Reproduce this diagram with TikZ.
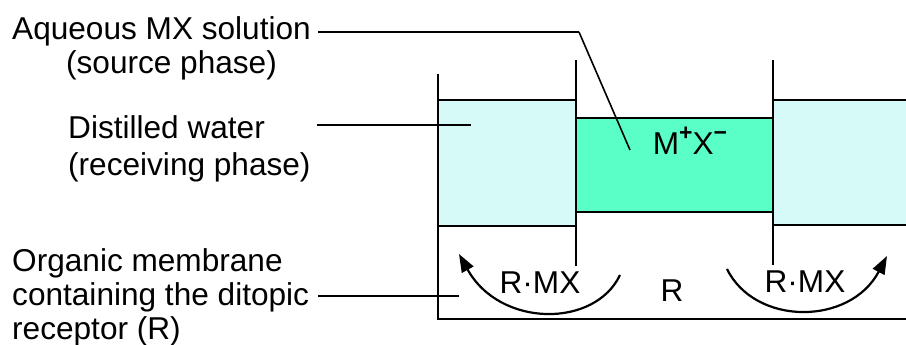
\documentclass[tikz,border=0pt]{standalone}
\usepackage{fontspec}
\setmainfont{Liberation Sans}
\usetikzlibrary{arrows.meta}
\definecolor{waterblue}{RGB}{214,250,248}
\definecolor{sourcegreen}{RGB}{90,255,200}
\newcommand{\charge}[1]{\raisebox{0.42em}{\fontsize{23}{23}\selectfont\bfseries #1}}
\tikzset{
  wall/.style={line width=2.6pt},
  thinedge/.style={line width=1.6pt},
  txt/.style={inner sep=0pt, font=\fontsize{31.6}{34}\selectfont},
  flow/.style={line width=2.2pt, -{Triangle[length=18pt,width=13pt]}}
}
\begin{document}
\begin{tikzpicture}[x=1pt,y=-1pt]
    \useasboundingbox (0,0) rectangle (906,345);
    % phases
    \fill [waterblue] (438,100) rectangle (576,226);
    \fill [sourcegreen] (576,118) rectangle (773,212);
    \fill [waterblue] (773,100) rectangle (906,225);
    \draw [thinedge] (438,100) -- (576,100);
    \draw [wall] (438,226) -- (576,226);
    \draw [wall] (576,118) -- (773,118);
    \draw [thinedge] (576,212) -- (773,212);
    \draw [thinedge] (773,100) -- (906,100);
    \draw [wall] (773,225) -- (906,225);
    % walls
    \draw [wall] (438,74) -- (438,319) -- (906,319);
    \draw [wall] (576,60) -- (576,266);
    \draw [wall] (773,60) -- (773,265);
    % labels
    \node [txt, anchor=north west, align=center] (aq) at (12,16) {Aqueous MX solution\\\hspace*{20pt}(source phase)};
    \node [txt, anchor=north west, align=left] (dw) at (68,115) {Distilled water\\[3pt](receiving phase)};
    \node [txt, anchor=north west, align=left] (om) at (12,248) {Organic membrane\\containing the ditopic\\receptor (R)};
    \coordinate (aqbend) at (579,32);
    \coordinate (aqtip) at (630,150);
    \coordinate (dwtip) at (471,125);
    \coordinate (omtip) at (459,296);
    \draw [wall] (318,32) -- (aqbend);
    \draw [thinedge] (aqbend) -- (aqtip);
    \draw [wall] (317,125) -- (dwtip);
    \draw [wall] (318,296) -- (omtip);
    % species
    \node [txt, anchor=base] (mx) at (690,154) {M\charge{+}X\charge{−}};
    \node [txt, anchor=base] (rmxl) at (540,293) {R·MX};
    \node [txt, anchor=base] (r) at (672,301) {R};
    \node [txt, anchor=base] (rmxr) at (805,292) {R·MX};
    % transport
    \coordinate (la) at (620,275);
    \coordinate (lb) at (459,254);
    \coordinate (ra) at (727,269);
    \coordinate (rb) at (887,256);
    \draw [flow] (la) .. controls (595,328) and (500,328) .. (lb);
    \draw [flow] (ra) .. controls (755,326) and (850,326) .. (rb);
\end{tikzpicture}
\end{document}
